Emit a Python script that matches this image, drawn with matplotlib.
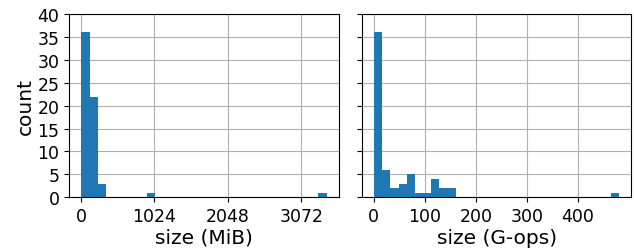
import numpy as np
import matplotlib
matplotlib.use('agg')
import matplotlib.pyplot as plt

# histogram counts per bin (30 equal bins over the data range)
mib_range = (5, 3422)
mib_counts = [36, 22, 3, 0, 0, 0, 0, 0, 1, 0,
              0, 0, 0, 0, 0, 0, 0, 0, 0, 0,
              0, 0, 0, 0, 0, 0, 0, 0, 0, 1]

gops_range = (0.5, 481)
gops_counts = [36, 6, 2, 3, 5, 1, 1, 4, 2, 2,
               0, 0, 0, 0, 0, 0, 0, 0, 0, 0,
               0, 0, 0, 0, 0, 0, 0, 0, 0, 1]

mib_ticks = [0, 1024, 2048, 3072]
gops_ticks = [0, 100, 200, 300, 400]


def draw_hist(ax, rng, counts):
    edges = np.linspace(rng[0], rng[1], len(counts) + 1)
    centers = (edges[:-1] + edges[1:]) / 2
    ax.hist(centers, bins=edges, weights=counts, color='#1f77b4')
    ax.grid(True, color='#b0b0b0')
    ax.set_axisbelow(True)


fig, (ax1, ax2) = plt.subplots(1, 2, sharey=True, figsize=(6.34, 2.51), dpi=100)
fig.subplots_adjust(left=0.109, right=0.996, bottom=0.21, top=0.94, wspace=0.085)

draw_hist(ax1, mib_range, mib_counts)
draw_hist(ax2, gops_range, gops_counts)

ax1.set_xticks(mib_ticks)
ax2.set_xticks(gops_ticks)
ax1.set_ylim(0, 40)
ax1.set_yticks(range(0, 41, 5))

ax1.set_xlabel('size (MiB)', fontsize=14.5, labelpad=2)
ax2.set_xlabel('size (G-ops)', fontsize=14.5, labelpad=2)
ax1.set_ylabel('count', fontsize=14.5, labelpad=2)
for ax in (ax1, ax2):
    ax.tick_params(labelsize=12.5)

fig.savefig('out.png')
